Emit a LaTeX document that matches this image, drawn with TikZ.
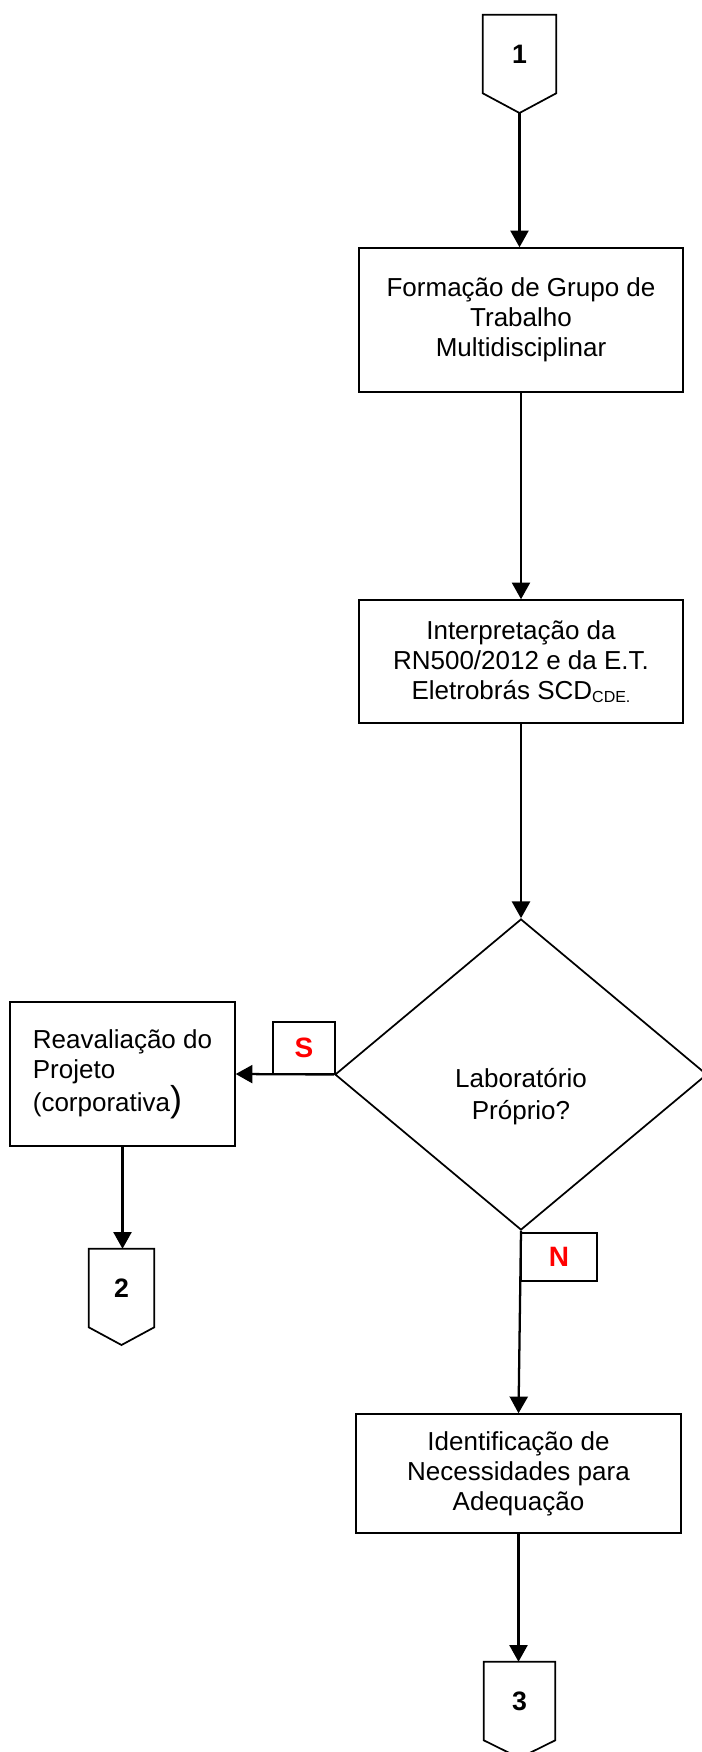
\documentclass[tikz,border=0pt]{standalone}
\usepackage{fontspec}
\setmainfont{Liberation Sans}
\usetikzlibrary{arrows.meta,shapes.geometric,calc}
\begin{document}
\begin{tikzpicture}[x=0.75pt,y=-0.75pt,
  box/.style={draw,line width=1.1pt,align=center,inner sep=0pt,font=\fontsize{19.5}{22.5}\selectfont},
  conn/.style={inner sep=0pt,font=\fontsize{20}{22}\selectfont\bfseries},
  flag/.style={draw,line width=1.1pt,inner sep=0pt,text=red,font=\fontsize{21}{24}\selectfont\bfseries},
  arr/.style={line width=1.7pt,-{Triangle[width=13.5pt,length=12.5pt]}},
  shapeline/.style={line width=1.3pt,line join=miter},
]
\useasboundingbox (0,0) rectangle (702,1752);

% connector 1
\node[conn,minimum width=54.75pt,minimum height=58.5pt] (c1) at (519.5,54) {1};
\coordinate (c1tip) at (519.5,113);
\draw[shapeline] (c1.south west) -- (c1.north west) -- (c1.north east) -- (c1.south east) -- (c1tip) -- cycle;

% process boxes
\node[box,minimum width=243pt,minimum height=108pt] (b1) at (521,320)
  {Formação de Grupo de\\Trabalho\\Multidisciplinar};
\node[box,minimum width=243pt,minimum height=92.25pt] (b2) at (521,661.5)
  {Interpretação da\\RN500/2012 e da E.T.\\Eletrobrás SCD{\fontsize{12}{13}\selectfont\raisebox{-1.8pt}{CDE.}}};

% decision
\node[draw,diamond,shapeline,minimum width=279pt,minimum height=233.25pt,inner sep=0pt] (dec) at (521,1074.5) {};
\node[align=center,inner sep=0pt,font=\fontsize{19.5}{24}\selectfont] (dectext) at (521,1097) {Laboratório\\Próprio?};

% yes branch
\node[box,align=left,minimum width=168.75pt,minimum height=108pt] (reav) at (122.5,1074)
  {Reavaliação do\\Projeto\\(corporativa{\fontsize{27}{30}\selectfont )}};
\node[flag,minimum width=46.5pt,minimum height=39pt] (sflag) at (304,1048) {S};

% no branch
\node[flag,minimum width=57pt,minimum height=36pt] (nflag) at (559,1257) {N};
\node[box,minimum width=243.75pt,minimum height=89.25pt] (b3) at (518.5,1473.5)
  {Identificação de\\Necessidades para\\Adequação};

% connector 2
\node[conn,minimum width=48.75pt,minimum height=58.5pt] (c2) at (121.5,1288) {2};
\coordinate (c2tip) at (121.5,1345);
\draw[shapeline] (c2.south west) -- (c2.north west) -- (c2.north east) -- (c2.south east) -- (c2tip) -- cycle;

% connector 3
\node[conn,minimum width=53.25pt,minimum height=58.5pt] (c3) at (519.5,1701) {3};
\coordinate (c3tip) at (519.5,1758);
\draw[shapeline] (c3.south west) -- (c3.north west) -- (c3.north east) -- (c3.south east) -- (c3tip) -- cycle;

% arrows
\draw[arr] (c1tip) -- (c1tip |- b1.north);
\draw[arr] (b1.south) -- (b2.north);
\draw[arr] (b2.south) -- (dec.north);
\draw[arr] (dec.west) -- (reav.east);
\draw[arr] (reav.south) -- (reav.south |- c2.north);
\draw[arr] (dec.south) -- (b3.north);
\draw[arr] (b3.south) -- (b3.south |- c3.north);
\end{tikzpicture}
\end{document}
